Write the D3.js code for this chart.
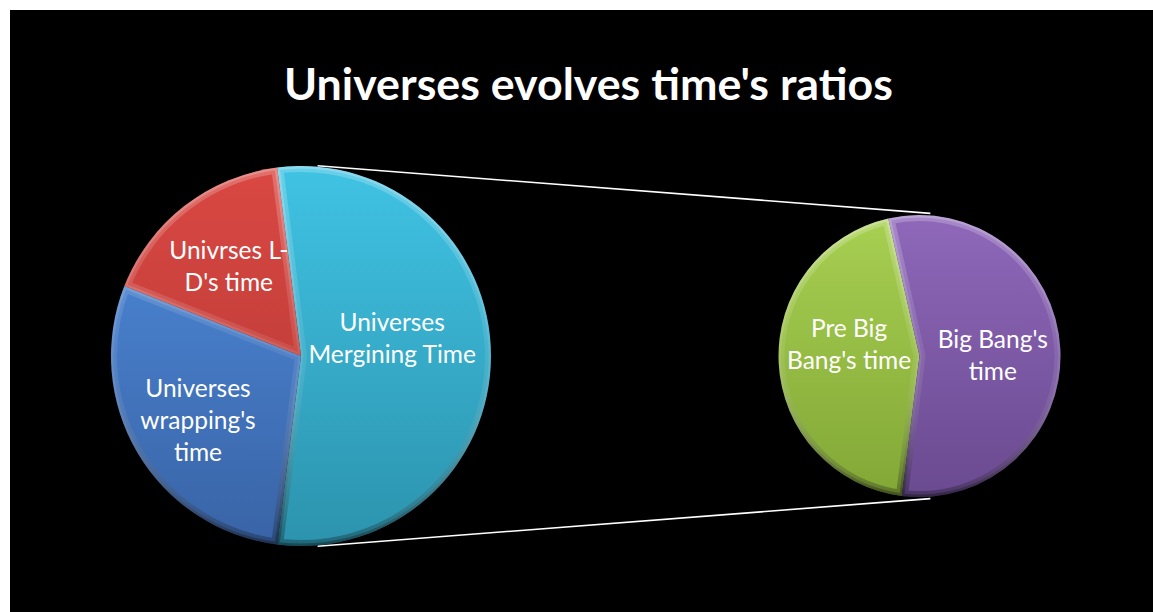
<!DOCTYPE html>
<html>
<head>
<meta charset="utf-8">
<script src="https://cdn.jsdelivr.net/npm/d3@7"></script>
<style>
  html, body { margin: 0; padding: 0; background: #fff; }
  svg { display: block; }
  text { font-family: Lato, "Open Sans", sans-serif; fill: #fff; }
</style>
</head>
<body>
<div id="chart"></div>
<script>
// main pie: first entry is the composite slice that opens into the second pie
const mainNames = ["Universes\nMergining Time", "Universes\nwrapping's\ntime", "Univrses L-\nD's time"];
const mainColors = [["#40c3e4", "#2c93ad"], ["#4f8ddd", "#3963a6"], ["#da4843", "#b03632"]];
const subNames = ["Pre Big\nBang's time", "Big Bang's\ntime"];
const subValues = [24, 30];
const subColors = [["#a8d052", "#82a736"], ["#8f68ba", "#6a4a90"]];
const otherValues = [29, 17];
const mainValues = [d3.sum(subValues)].concat(otherValues);

const title = "Universes evolves time's ratios";

const width = 1153;
const height = 612;

const svg = d3.select('#chart')
    .append('svg')
    .attr('width', width)
    .attr('height', height);

const defs = svg.append('defs');

// black plot area
svg.append('rect')
    .attr('x', 10)
    .attr('y', 10)
    .attr('width', width - 10)
    .attr('height', height - 10)
    .attr('fill', '#000');

// title, fitted to the width it has in the picture
const titleText = svg.append('text')
    .attr('x', 588.5)
    .attr('y', 100)
    .style('text-anchor', 'middle')
    .style('font-weight', 'bold')
    .style('font-size', '42px')
    .text(title);
const tw = titleText.node().getComputedTextLength();
titleText.style('font-size', (42 * 609 / tw) + 'px');

const main = { cx: 301, cy: 356, r: 190, labelK: [0.48, 0.63, 0.62], labelDy: [-17, 4, 4] };
const sub = { cx: 919.5, cy: 356, r: 141, labelK: [0.5, 0.52], labelDy: [-14, 4] };

const compositeAngle = 2 * Math.PI * mainValues[0] / d3.sum(mainValues);
const mainStart = Math.PI / 2 - compositeAngle / 2;
const subStart = Math.PI / 2 + compositeAngle / 2;

function gradient(id, cols, r) {
    const g = defs.append('linearGradient')
        .attr('id', id)
        .attr('gradientUnits', 'userSpaceOnUse')
        .attr('x1', 0).attr('x2', 0)
        .attr('y1', -r)
        .attr('y2', r);
    g.append('stop').attr('offset', '0%').attr('stop-color', cols[0]);
    g.append('stop').attr('offset', '100%').attr('stop-color', cols[1]);
}

function bevelGradient(id, r) {
    const g = defs.append('linearGradient')
        .attr('id', id)
        .attr('gradientUnits', 'userSpaceOnUse')
        .attr('x1', 0).attr('x2', 0)
        .attr('y1', -r)
        .attr('y2', r);
    g.append('stop').attr('offset', '0%').attr('stop-color', '#fff').attr('stop-opacity', 0.22);
    g.append('stop').attr('offset', '50%').attr('stop-color', '#fff').attr('stop-opacity', 0.08);
    g.append('stop').attr('offset', '100%').attr('stop-color', '#000').attr('stop-opacity', 0.3);
}

function drawPie(name, pie, names, values, colors, startAngle) {
    const arcs = d3.pie()
        .sort(null)
        .startAngle(startAngle)
        .endAngle(startAngle + 2 * Math.PI)(values);

    const arc = d3.arc().innerRadius(0).outerRadius(pie.r);
    const labelArc = i => d3.arc().innerRadius(pie.r * pie.labelK[i]).outerRadius(pie.r * pie.labelK[i]);

    bevelGradient(name + '-bevel', pie.r);
    colors.forEach((c, i) => gradient(`${name}-fill-${i}`, c, pie.r));

    const g = svg.append('g')
        .attr('transform', `translate(${pie.cx},${pie.cy})`);

    arcs.forEach((d, i) => {
        defs.append('clipPath')
            .attr('id', `${name}-clip-${i}`)
            .append('path')
            .attr('d', arc(d));
    });

    g.selectAll('.slice')
        .data(arcs)
        .enter()
        .append('path')
        .classed('slice', true)
        .attr('d', arc)
        .attr('fill', (d, i) => `url(#${name}-fill-${i})`);

    // soft bevel along every slice edge
    [12, 5].forEach(w => {
        g.selectAll('.bevel-' + w)
            .data(arcs)
            .enter()
            .append('path')
            .classed('bevel-' + w, true)
            .attr('d', arc)
            .attr('fill', 'none')
            .attr('stroke', `url(#${name}-bevel)`)
            .attr('stroke-width', w)
            .attr('stroke-linejoin', 'round')
            .attr('clip-path', (d, i) => `url(#${name}-clip-${i})`);
    });

    const lineH = 32;
    g.selectAll('.label')
        .data(arcs)
        .enter()
        .append('text')
        .classed('label', true)
        .attr('transform', (d, i) => {
            const [x, y] = labelArc(i).centroid(d);
            return `translate(${x},${y + pie.labelDy[i]})`;
        })
        .style('text-anchor', 'middle')
        .style('font-size', '24.5px')
        .each(function (d, i) {
            const lines = names[i].split('\n');
            const t = d3.select(this);
            lines.forEach((l, j) => {
                t.append('tspan')
                    .attr('x', 0)
                    .attr('y', (j - (lines.length - 1) / 2) * lineH + 8)
                    .text(l);
            });
        });
}

// connector lines between the composite slice and the second pie
const a1 = 5 * Math.PI / 180;
const a2 = 4 * Math.PI / 180;
[-1, 1].forEach(s => {
    svg.append('line')
        .attr('x1', main.cx + main.r * Math.sin(a1))
        .attr('y1', main.cy + s * main.r * Math.cos(a1) + s)
        .attr('x2', sub.cx + sub.r * Math.sin(a2) + 1)
        .attr('y2', sub.cy + s * sub.r * Math.cos(a2) + s * 2)
        .attr('stroke', '#fff')
        .attr('stroke-width', 1.6);
});

drawPie('main', main, mainNames, mainValues, mainColors, mainStart);
drawPie('sub', sub, subNames, subValues, subColors, subStart);
</script>
</body>
</html>
